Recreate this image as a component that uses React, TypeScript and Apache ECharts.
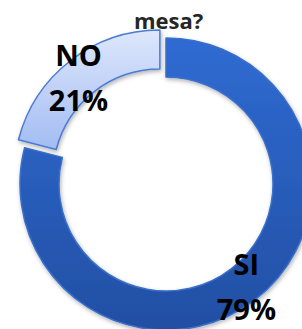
import React, { useEffect, useRef } from "react";
import * as echarts from "echarts";

const categories = ["SI", "NO"];
const values = [79, 21];
const titleText = "mesa?";

export default function App() {
  const ref = useRef<HTMLDivElement>(null);
  useEffect(() => {
    if (!ref.current) return;
    const chart = echarts.init(ref.current, null, { renderer: "svg" });
    const colors = [
      new echarts.graphic.LinearGradient(0, 0, 0, 1, [
        { offset: 0, color: "#2F6BD2" },
        { offset: 1, color: "#224FA3" },
      ]),
      new echarts.graphic.LinearGradient(0, 0, 0, 1, [
        { offset: 0, color: "#DDE7FC" },
        { offset: 1, color: "#A3BCF2" },
      ]),
    ];
    const borders = ["#3A6FCB", "#4A7BD4"];
    chart.setOption({
      animation: false,
      graphic: [
        {
          type: "text",
          left: 134,
          top: 9,
          z: 10,
          style: {
            text: titleText,
            fontSize: 22,
            fontWeight: "bold",
            fontFamily: "Open Sans",
            fill: "#262626",
          },
        },
      ],
      series: [
        {
          type: "pie",
          center: [166, 184],
          radius: [107, 146],
          startAngle: 90,
          clockwise: true,
          selectedMode: "single",
          selectedOffset: 10,
          label: {
            show: true,
            position: "inside",
            formatter: "{b}\n{d}%",
            fontFamily: "Open Sans, sans-serif",
            fontWeight: "bold",
            fontSize: 29,
            lineHeight: 45,
            color: "#000000",
          },
          labelLayout: (p: any) => (p.dataIndex === 1 ? { dx: -2, dy: 3 } : { dx: 1, dy: 0 }),
          labelLine: { show: false },
          emphasis: { disabled: true },
          data: categories.map((c, i) => ({
            name: c,
            value: values[i],
            selected: i === 1,
            itemStyle: {
              color: colors[i],
              borderColor: borders[i],
              borderWidth: 1.5,
              shadowBlur: 4,
              shadowColor: "rgba(0,0,0,0.3)",
              shadowOffsetX: 1,
              shadowOffsetY: 2,
            },
          })),
        },
      ],
    });
    return () => chart.dispose();
  }, []);
  return (
    <div
      ref={ref}
      style={{ position: "fixed", left: 0, top: 0, width: 302, height: 329, background: "#fff" }}
    />
  );
}
